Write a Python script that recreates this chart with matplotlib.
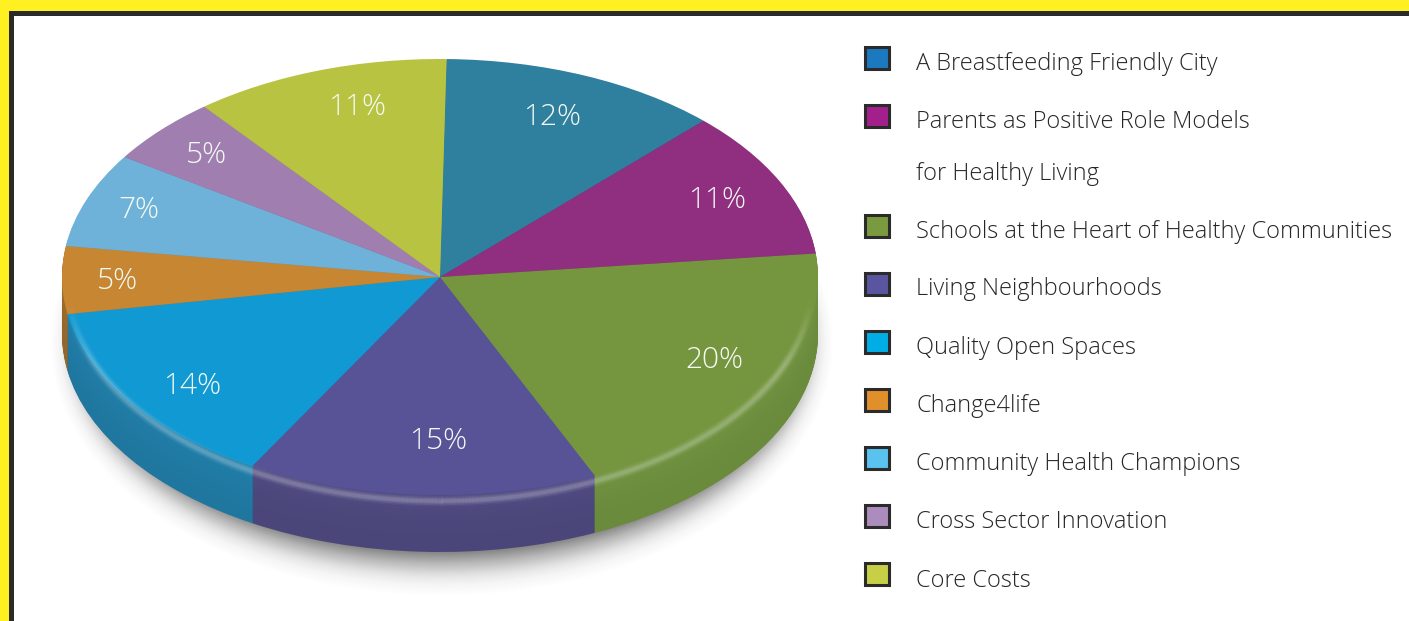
import numpy as np
import matplotlib
matplotlib.use("Agg")
import matplotlib.pyplot as plt
from matplotlib.patches import Rectangle, Ellipse
from matplotlib.collections import LineCollection
from matplotlib.colors import to_rgb

categories = ["A Breastfeeding Friendly City",
              "Parents as Positive Role Models\nfor Healthy Living",
              "Schools at the Heart of Healthy Communities",
              "Living Neighbourhoods", "Quality Open Spaces", "Change4life",
              "Community Health Champions", "Cross Sector Innovation", "Core Costs"]
values = [12, 11, 20, 15, 14, 5, 7, 5, 11]
top_colors = ["#2F809F", "#902E80", "#75963F", "#585396", "#1099D2",
              "#C78632", "#6FB2D9", "#A07FB0", "#B8C342"]
side_colors = ["#22607A", "#6E2362", "#6A8A3C", "#4B4679", "#1F779F",
               "#94662A", "#4F86A6", "#7A6086", "#8C9532"]
legend_colors = ["#1B7ABF", "#A3208C", "#7A9A3F", "#5A55A0", "#00AEE5",
                 "#E08F2A", "#59C2EE", "#AB8CBC", "#C6CF46"]
label_pos = [(552, 117), (717, 200), (714, 360), (438, 441), (192, 386),
             (117, 281), (139, 210), (206, 155), (357, 107)]
legend_text_y = [64, 122, 232, 289, 348, 406, 464, 522, 581]
legend_box_y = [58, 116, 226, 284, 342, 400, 458, 516, 574]

W, H = 1409, 621
CX, CY, RX, RY, DEPTH = 440, 277, 378, 218, 57
FONT = ["Open Sans", "DejaVu Sans"]

fig = plt.figure(figsize=(W / 100, H / 100), dpi=100, facecolor="white")
ax = fig.add_axes([0, 0, 1, 1])
d = DEPTH / RY
xlim = (-CX / RX, (W - CX) / RX)
ylim = (-(H - CY) / RY, CY / RY)

# soft shadow under the pie
n = 40
for i in range(n):
    t = i / (n - 1)
    ax.add_patch(Ellipse((0.005, -d - 0.04),
                         2 * (1.035 - 0.09 * t), 2 * (1.16 - 0.20 * t),
                         fc="black", ec="none", alpha=0.002 + 0.032 * t ** 1.5, zorder=1))

# extruded side: stacked pies, bottom to top, slightly lighter upward
levels = np.arange(DEPTH, 0, -1)
for lv in levels:
    f = 1 + 0.07 * (1 - lv / DEPTH) ** 2
    cols = [tuple(min(1, c * f) for c in to_rgb(s)) for s in side_colors]
    w, _ = ax.pie(values, colors=cols, startangle=89, counterclock=False,
                  radius=1, center=(0, -lv / RY))
    for p in w:
        p.set_zorder(2 + (DEPTH - lv) * 0.001)
        p.set_linewidth(0)

# top face
w, _ = ax.pie(values, colors=top_colors, startangle=89, counterclock=False,
              radius=1, center=(0, 0))
for p in w:
    p.set_zorder(3)
    p.set_linewidth(0)

# rim highlight
th = np.radians(np.linspace(-4, -176, 300))
hx = 0.984 * np.cos(th)
hy = np.sin(th) - 6 / RY
segs = np.stack([np.c_[hx[:-1], hy[:-1]], np.c_[hx[1:], hy[1:]]], axis=1)
mid = np.linspace(0, 1, len(segs))
fade = np.clip(np.minimum(mid, 1 - mid) / 0.10, 0, 1)
for lw, a in [(8.0, 0.04), (6.0, 0.07), (4.0, 0.09), (2.5, 0.09)]:
    rgba = np.ones((len(segs), 4))
    rgba[:, 3] = a * fade
    lc = LineCollection(segs, colors=rgba, linewidths=lw, capstyle="butt", zorder=4)
    ax.add_collection(lc)

ax.set_aspect("auto")
ax.set_xlim(*xlim)
ax.set_ylim(*ylim)
ax.axis("off")

# overlay in pixel coordinates
ov = fig.add_axes([0, 0, 1, 1], facecolor="none")
ov.set_xlim(0, W)
ov.set_ylim(H, 0)
ov.axis("off")

ov.add_patch(Rectangle((0, 0), W, 11, fc="#FFF021", ec="none"))
ov.add_patch(Rectangle((0, 0), 9, H, fc="#FFF021", ec="none"))
ov.add_patch(Rectangle((9, 11), W - 9, 5, fc="#2A2A2A", ec="none"))
ov.add_patch(Rectangle((9, 11), 5, H - 11, fc="#2A2A2A", ec="none"))

for v, (x, y) in zip(values, label_pos):
    ov.text(x, y, f"{v}%", color="#F4FAF4", fontsize=21.5, family=FONT, weight="light",
            ha="center", va="center", zorder=6)

for name, c, ty, by in zip(categories, legend_colors, legend_text_y, legend_box_y):
    ov.add_patch(Rectangle((865, by - 11), 24, 22, fc=c, ec="#2B2B2B", lw=2.2, zorder=6))
    for j, line in enumerate(name.split("\n")):
        ov.text(916, ty + j * 52, line, color="#262626", fontsize=17, family=FONT,
                weight="light", ha="left", va="center", zorder=6)

fig.savefig("out.png", dpi=100, facecolor="white")
